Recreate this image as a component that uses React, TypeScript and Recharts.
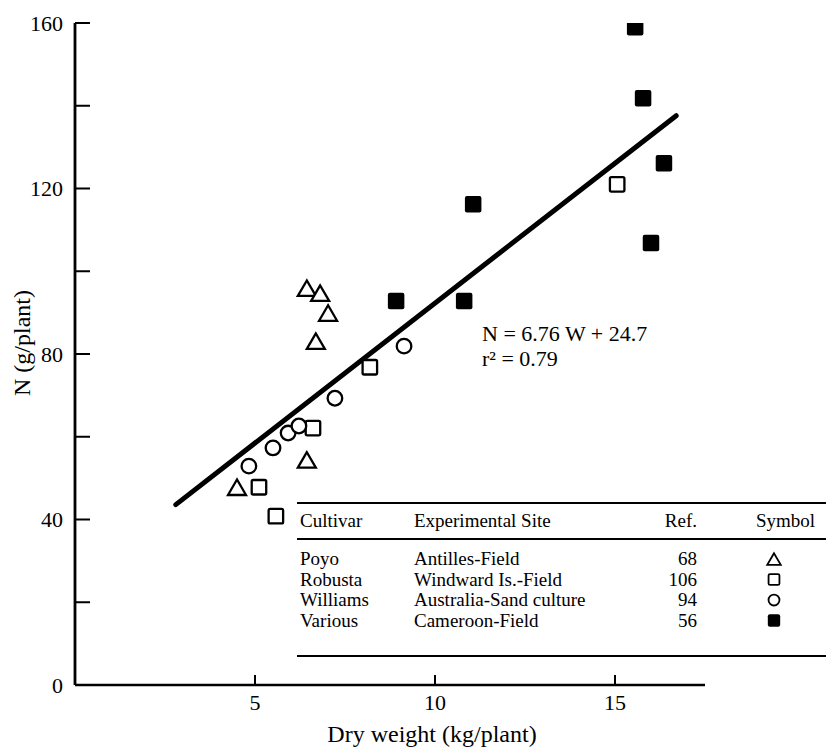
import React from 'react';
import { ScatterChart, Scatter, XAxis, YAxis, ReferenceLine, Legend, Label } from 'recharts';

// ---- data ----
const poyoW = [4.5, 6.44, 6.44, 6.81, 7.03, 6.69];
const poyoN = [47.8, 54.4, 95.9, 94.7, 89.9, 83.1];
const robustaW = [5.11, 5.58, 6.61, 8.19, 15.06];
const robustaN = [47.8, 40.8, 62.1, 76.8, 121.0];
const williamsW = [4.83, 5.5, 5.92, 6.22, 7.22, 9.14];
const williamsN = [52.9, 57.3, 60.9, 62.6, 69.3, 81.9];
const variousW = [8.92, 10.81, 11.06, 15.56, 15.78, 16.36, 16.0];
const variousN = [92.8, 92.8, 116.2, 159.0, 141.8, 126.1, 106.8];

const fitW = [2.8, 16.7];
const fitN = [43.6, 137.6];

const cultivars = ['Poyo', 'Robusta', 'Williams', 'Various'];
const sites = ['Antilles-Field', 'Windward Is.-Field', 'Australia-Sand culture', 'Cameroon-Field'];
const refs = ['68', '106', '94', '56'];
const symbolKinds = ['triangle', 'square', 'circle', 'filled'];

const xTicks = [5, 10, 15];
const yTicks = [0, 20, 40, 60, 80, 100, 120, 140, 160];
const yTickLabels = [0, 40, 80, 120, 160];

const equationLines = ['N = 6.76 W + 24.7', 'r² = 0.79'];

// ---- layout / style ----
const W = 826;
const H = 750;
const FONT = '"Liberation Serif", "Times New Roman", serif';

const toPts = (xs: number[], ys: number[]) => xs.map((w, i) => ({ w, n: ys[i] }));
const seriesData = [toPts(poyoW, poyoN), toPts(robustaW, robustaN), toPts(williamsW, williamsN), toPts(variousW, variousN)];

function Marker({ kind, cx, cy, s = 1 }: { kind: string; cx: number; cy: number; s?: number }) {
  const sw = s < 1 ? 1.8 : 2.3;
  if (kind === 'triangle') {
    const w = 18 * s, h = 15.5 * s;
    return (
      <polygon
        points={`${cx},${cy - h / 2} ${cx - w / 2},${cy + h / 2} ${cx + w / 2},${cy + h / 2}`}
        fill="#fff" stroke="#000" strokeWidth={sw} strokeLinejoin="miter"
      />
    );
  }
  if (kind === 'square') {
    const a = 14.5 * s;
    return <rect x={cx - a / 2} y={cy - a / 2} width={a} height={a} rx={1.5} fill="#fff" stroke="#000" strokeWidth={sw} />;
  }
  if (kind === 'circle') {
    return <circle cx={cx} cy={cy} r={7.3 * s} fill="#fff" stroke="#000" strokeWidth={sw} />;
  }
  const a = 16.5 * s;
  return <rect x={cx - a / 2} y={cy - a / 2} width={a} height={a} rx={2} fill="#000" />;
}

const TABLE = {
  left: 297, right: 826,
  lineTop: 503, lineMid: 539, lineBottom: 656,
  header: 527, row0: 565, rowStep: 20.5,
  cult: 300, site: 414, refEnd: 697, symText: 756, sym: 774,
  fontSize: 19,
};

function TableLegend(props: any) {
  const payload = (props && props.payload) || [];
  const t = TABLE;
  return (
    <svg width={W} height={H} style={{ position: 'absolute', left: 0, top: 0, pointerEvents: 'none' }}>
      <g fontFamily={FONT} fontSize={t.fontSize} fill="#000">
        <line x1={t.left} x2={t.right} y1={t.lineTop} y2={t.lineTop} stroke="#000" strokeWidth={2} />
        <line x1={t.left} x2={t.right} y1={t.lineMid} y2={t.lineMid} stroke="#000" strokeWidth={2} />
        <line x1={t.left} x2={t.right} y1={t.lineBottom} y2={t.lineBottom} stroke="#000" strokeWidth={2} />
        <text x={t.cult} y={t.header}>Cultivar</text>
        <text x={t.site} y={t.header}>Experimental Site</text>
        <text x={t.refEnd} y={t.header} textAnchor="end">Ref.</text>
        <text x={t.symText} y={t.header}>Symbol</text>
        {payload.map((entry: any) => {
          const i = cultivars.indexOf(entry.value);
          if (i < 0) return null;
          const y = t.row0 + i * t.rowStep;
          return (
            <g key={entry.value}>
              <text x={t.cult} y={y}>{cultivars[i]}</text>
              <text x={t.site} y={y}>{sites[i]}</text>
              <text x={t.refEnd} y={y} textAnchor="end">{refs[i]}</text>
              <Marker kind={symbolKinds[i]} cx={t.sym} cy={y - 6} s={0.75} />
            </g>
          );
        })}
      </g>
    </svg>
  );
}

const yFormatter = (v: number) => (yTickLabels.includes(v) ? String(v) : '');

export default function App() {
  return (
    <div style={{ position: 'absolute', left: 0, top: 0, width: W, height: H, background: '#fff' }}>
      <ScatterChart width={W} height={H} margin={{ top: 23, right: 121, bottom: 0, left: 10 }}>
        <XAxis
          type="number"
          dataKey="w"
          domain={[0, 17.5]}
          ticks={xTicks}
          interval={0}
          allowDataOverflow
          height={65}
          tickSize={-10}
          tickMargin={19}
          axisLine={{ stroke: '#000', strokeWidth: 2.5 }}
          tickLine={{ stroke: '#000', strokeWidth: 2 }}
          tick={{ fill: '#000', fontSize: 22, fontFamily: FONT }}
          label={
            <Label
              content={({ viewBox }: any) => (
                <text x={viewBox.x + viewBox.width / 2 + 42} y={viewBox.y + viewBox.height - 8} textAnchor="middle" fontFamily={FONT} fontSize={24} fill="#000">
                  Dry weight (kg/plant)
                </text>
              )}
            />
          }
        />
        <YAxis
          type="number"
          dataKey="n"
          domain={[0, 160]}
          ticks={yTicks}
          interval={0}
          allowDataOverflow
          width={65}
          tickSize={-15}
          tickMargin={27}
          tickFormatter={yFormatter}
          axisLine={{ stroke: '#000', strokeWidth: 2.8 }}
          tickLine={{ stroke: '#000', strokeWidth: 2 }}
          tick={{ fill: '#000', fontSize: 22, fontFamily: FONT }}
          label={
            <Label
              content={({ viewBox }: any) => {
                const cx = viewBox.x + 12;
                const cy = viewBox.y + viewBox.height / 2 - 11;
                return (
                  <text x={cx} y={cy} transform={`rotate(-90, ${cx}, ${cy})`} textAnchor="middle" dominantBaseline="central" fontFamily={FONT} fontSize={24} fill="#000">
                    N (g/plant)
                  </text>
                );
              }}
            />
          }
        />
        {seriesData.map((d, i) => (
          <Scatter
            key={cultivars[i]}
            name={cultivars[i]}
            data={d}
            fill="#000"
            isAnimationActive={false}
            shape={(p: any) => <Marker kind={symbolKinds[i]} cx={p.cx} cy={p.cy} />}
          />
        ))}
        <ReferenceLine
          segment={[{ x: fitW[0], y: fitN[0] }, { x: fitW[1], y: fitN[1] }]}
          stroke="#000"
          strokeWidth={5}
          strokeLinecap="round"
          ifOverflow="visible"
        />
        <Legend
          layout="vertical"
          verticalAlign="middle"
          align="center"
          wrapperStyle={{ left: 0, top: 0, width: W, height: H, pointerEvents: 'none' }}
          content={(props: any) => <TableLegend {...props} />}
        />
      </ScatterChart>
      <svg width={W} height={H} style={{ position: 'absolute', left: 0, top: 0, pointerEvents: 'none' }}>
        <g fontFamily={FONT} fontSize={22} fill="#000">
          <text x={482} y={341}>{equationLines[0]}</text>
          <text x={482} y={366}>{equationLines[1]}</text>
        </g>
      </svg>
    </div>
  );
}
